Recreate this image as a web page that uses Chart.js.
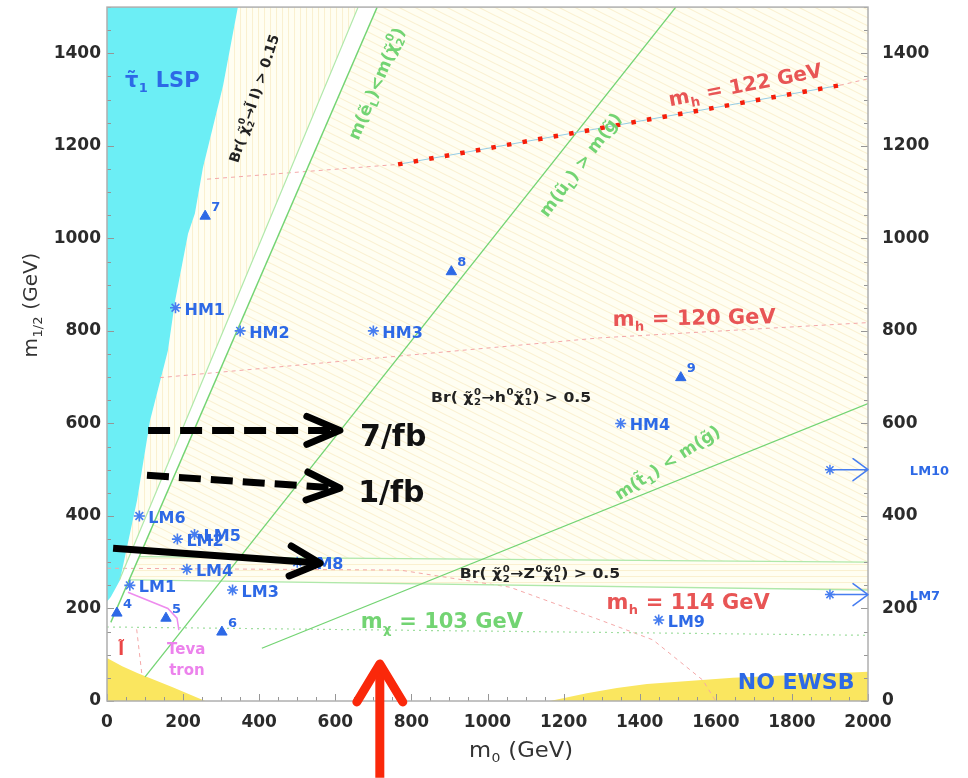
<!DOCTYPE html>
<html><head><meta charset="utf-8">
<script src="https://cdn.jsdelivr.net/npm/chart.js@4.4.0/dist/chart.umd.min.js"></script>
<style>html,body{margin:0;padding:0;background:#fff;}#wrap{width:968px;height:778px;}</style>
</head><body><div id="wrap"><canvas id="c" width="968" height="778"></canvas></div>
<script>
// ---------- data (m0, m1/2 in GeV) ----------
const xTickValues = [0,200,400,600,800,1000,1200,1400,1600,1800,2000];
const yTickValues = [0,200,400,600,800,1000,1200,1400];
const lspRegion = [[0,1500],[344,1500],[305,1330],[252,1152],[231,1054],[213,1010],[179,865],[160,757],[113,606],[79,434],[34,261],[10,225],[0,215]];
const sleptonBrRegion = [[344,1500],[305,1330],[252,1152],[231,1054],[213,1010],[179,865],[160,757],[113,606],[79,434],[34,261],[660,1500]];
const higgsBrRegion = [[710,1500],[2000,1500],[2000,300],[84,312]];
const zBrRegion = [[84,312],[2000,300],[2000,240],[60,262]];
const noEwsbLeft = [[0,0],[0,93],[40,75],[81,60],[171,30],[258,0]];
const noEwsbRight = [[1164,0],[1261,17],[1340,28],[1419,37],[1645,50],[2000,63],[2000,0]];
const lineSeLight = [[660,1500],[33,262]];
const lineSeChi = [[710,1500],[10,170]];
const lineSquarkGluino = [[1495,1500],[100,52]];
const lineStopGluino = [[407,114],[2000,643]];
const lineBrZUpper = [[84,312],[2000,300]];
const lineBrZLower = [[60,262],[2000,240]];
const lineMchi103 = [[0,160],[2000,142]];
const mh122Dashed = [[263,1128],[765,1160]];
const mh122DashedEnd = [[1926,1331],[2000,1345]];
const mh122Dotted = [[765,1160],[1926,1331]];
const mh120 = [[139,699],[1296,785],[2000,818]];
const mh114 = [[0,287],[770,283],[1059,246],[1296,175],[1435,132],[1566,45],[1598,2]];
const sleptonLimit = [[78,155],[92,55]];
const tevatron = [[55,235],[160,200],[184,179],[189,153]];
const triNames = ['4','5','6','7','8','9'];
const triX = [26,155,302,258,905,1508];
const triY = [190,179,149,1048,928,699];
const bmNames = ['LM1','LM2','LM3','LM4','LM5','LM6','LM8','LM9','HM1','HM2','HM3','HM4'];
const bmX = [60,185,330,210,230,85,500,1450,180,350,700,1350];
const bmY = [250,350,240,285,360,400,300,175,850,800,800,600];
const offNames = ['LM10','LM7'];
const offFromX = [1900,1900];
const offToX = [2000,2000];
const offY = [500,230];
const arrow7fb = [[108,585],[612,585]];
const arrow1fb = [[105,488],[612,460]];
const arrowSolid = [[16,330],[560,298]];
const arrowRed = [[717,-166],[717,80]];

// ---------- styling helpers ----------
const pts = a => a.map(p => ({x:p[0], y:p[1]}));
function hatch(kind){
  const c = document.createElement('canvas');
  let w=16,h=8;
  if(kind==='v'){w=6;h=6;} if(kind==='h'){w=6;h=6;}
  c.width=w;c.height=h;
  const g=c.getContext('2d');
  g.fillStyle='rgb(255,254,242)'; g.fillRect(0,0,w,h);
  g.strokeStyle='rgb(250,240,208)'; g.lineWidth=1.1;
  g.beginPath();
  if(kind==='d'){ for(const o of [-8,0,8]){ g.moveTo(0,o); g.lineTo(16,o+8);} }
  else if(kind==='v'){ g.moveTo(0.5,0); g.lineTo(0.5,h); }
  else { g.moveTo(0,0.5); g.lineTo(w,0.5); }
  g.stroke();
  return g.createPattern(c,'repeat');
}
const GREEN='rgb(115,212,115)', LGREEN='rgb(175,232,170)', PINK='rgb(244,168,168)', BLUE='rgb(45,105,230)';
function region(data,fillStyle,order){return {data:pts(data),fill:'shape',backgroundColor:fillStyle,borderWidth:0,borderColor:'rgba(0,0,0,0)',pointRadius:0,order};}
function line(data,color,width,dash,order){return {data:pts(data),fill:false,borderColor:color,borderWidth:width,borderDash:dash||[],pointRadius:0,order:order||10};}

function drawRich(ctx, parts, o){
  const fam=o.family||'DejaVu Sans', wt=o.weight||'bold';
  const fN=`${wt} ${o.size}px "${fam}"`, ss=Math.round(o.size*0.64), fS=`${wt} ${ss}px "${fam}"`;
  ctx.save();
  let w=0; const ws=[];
  for(const [t,m] of parts){
    let ww;
    if(m===0){ctx.font=fN; ww=ctx.measureText(t).width;}
    else if(m===3){ctx.font=fS; const [a,b]=t.split('|'); ww=Math.max(ctx.measureText(a).width,ctx.measureText(b).width)+1;}
    else {ctx.font=fS; ww=ctx.measureText(t).width+1;}
    ws.push(ww); w+=ww;
  }
  ctx.translate(o.x,o.y); ctx.rotate((o.angle||0)*Math.PI/180); ctx.scale(o.sx||1,1);
  let cx = o.align==='left'?0:-w/2;
  ctx.fillStyle=o.color; ctx.textBaseline='alphabetic'; ctx.textAlign='left';
  const base=o.size*0.36;
  parts.forEach(([t,m],i)=>{
    if(m===0){ctx.font=fN; ctx.fillText(t,cx,base);}
    else if(m===1){ctx.font=fS; ctx.fillText(t,cx+0.5,base+o.size*0.24);}
    else if(m===2){ctx.font=fS; ctx.fillText(t,cx+0.5,base-o.size*0.45);}
    else {ctx.font=fS; const [a,b]=t.split('|'); ctx.fillText(a,cx+0.5,base-o.size*0.45); ctx.fillText(b,cx+0.5,base+o.size*0.24);}
    cx+=ws[i];
  });
  ctx.restore();
}
function drawArrow(ctx,x1,y1,x2,y2,st){
  const a=Math.atan2(y2-y1,x2-x1), L=st.head, W=st.headW;
  ctx.save();
  ctx.strokeStyle=st.color; ctx.lineWidth=st.width;
  ctx.setLineDash(st.dash||[]); ctx.lineCap='butt';
  ctx.beginPath(); ctx.moveTo(x1,y1); ctx.lineTo(x2-Math.cos(a)*st.width*0.6,y2-Math.sin(a)*st.width*0.6); ctx.stroke();
  ctx.setLineDash([]); ctx.lineCap='round'; ctx.lineJoin='round';
  ctx.lineWidth=st.headWidth||st.width;
  const bx=x2-Math.cos(a)*L, by=y2-Math.sin(a)*L, px=-Math.sin(a)*W, py=Math.cos(a)*W;
  ctx.beginPath(); ctx.moveTo(bx+px,by+py); ctx.lineTo(x2,y2); ctx.lineTo(bx-px,by-py); ctx.stroke();
  ctx.restore();
}

// text annotations (anchor in data coordinates)
const texts = [
  {x:47,y:1344,align:'left',size:21,color:BLUE,parts:[['τ̃',0],['1',1],[' LSP',0]]},
  {x:386,y:1303,angle:-72,size:14,color:'#222',parts:[['Br( χ̃',0],['0|2',3],['→l̃ l) > 0.15',0]]},
  {x:707,y:1335,angle:-67,size:17,color:GREEN,parts:[['m(ẽ',0],['L',1],[')<m(χ̃',0],['0|2',3],[')',0]]},
  {x:1243,y:1160,angle:-53,size:17,color:GREEN,parts:[['m(ũ',0],['L',1],[') > m(g̃)',0]]},
  {x:1472,y:516,angle:-33,size:17,color:GREEN,parts:[['m(t̃',0],['1',1],[') < m(g̃)',0]]},
  {x:1677,y:1333,angle:-11,size:20,color:'rgb(232,85,85)',parts:[['m',0],['h',1],[' = 122 GeV',0]]},
  {x:1543,y:830,angle:-1,size:21,color:'rgb(232,85,85)',parts:[['m',0],['h',1],[' = 120 GeV',0]]},
  {x:1527,y:216,size:21,color:'rgb(232,85,85)',parts:[['m',0],['h',1],[' = 114 GeV',0]]},
  {x:880,y:175,size:21,color:GREEN,parts:[['m',0],['χ',1],[' = 103 GeV',0]]},
  {x:1062,y:658,size:14,sx:1.12,color:'#222',parts:[['Br( χ̃',0],['0|2',3],['→h',0],['0',2],['χ̃',0],['0|1',3],[') > 0.5',0]]},
  {x:1138,y:276,size:14,sx:1.12,color:'#222',parts:[['Br( χ̃',0],['0|2',3],['→Z',0],['0',2],['χ̃',0],['0|1',3],[') > 0.5',0]]},
  {x:1811,y:43,size:22,color:BLUE,parts:[['NO EWSB',0]]},
  {x:665,y:574,align:'left',size:30,color:'#111',parts:[['7/fb',0]]},
  {x:660,y:453,align:'left',size:30,color:'#111',parts:[['1/fb',0]]},
  {x:208,y:114,size:15,color:'rgb(236,130,236)',parts:[['Teva',0]]},
  {x:210,y:67,size:15,color:'rgb(236,130,236)',parts:[['tron',0]]},
  {x:37,y:112,size:17,color:'rgb(235,70,70)',parts:[['l̃',0]]}
];

const annot = {
  id:'annot',
  afterDatasetsDraw(chart){
    const {ctx, chartArea:ca, scales:{x,y}} = chart;
    const X=v=>x.getPixelForValue(v), Y=v=>y.getPixelForValue(v);
    ctx.save();
    ctx.strokeStyle='rgb(150,150,150)'; ctx.lineWidth=1;
    ctx.beginPath();
    for(let v=0; v<=2000; v+=50){ const px=Math.round(X(v))+0.5, len = v%200===0?7:4; ctx.moveTo(px,ca.bottom); ctx.lineTo(px,ca.bottom-len); }
    for(let v=0; v<=1500; v+=50){ const py=Math.round(Y(v))+0.5, len = v%200===0?7:4; ctx.moveTo(ca.left,py); ctx.lineTo(ca.left+len,py); ctx.moveTo(ca.right,py); ctx.lineTo(ca.right-len,py); }
    ctx.stroke();
    ctx.strokeStyle='rgb(175,175,175)'; ctx.lineWidth=1.5;
    ctx.strokeRect(ca.left,ca.top,ca.right-ca.left,ca.bottom-ca.top);
    ctx.restore();
    ctx.save();
    bmNames.forEach((n,i)=>drawRich(ctx,[[n,0]],{x:X(bmX[i])+9,y:Y(bmY[i])+1,align:'left',size:16,color:BLUE}));
    triNames.forEach((n,i)=>drawRich(ctx,[[n,0]],{x:X(triX[i])+6,y:Y(triY[i])-10,align:'left',size:13,color:BLUE}));
    offNames.forEach((n,i)=>{
      const y0=Y(offY[i]), xa=X(offFromX[i]), xb=X(offToX[i]);
      ctx.save(); ctx.strokeStyle='rgb(70,125,240)'; ctx.lineWidth=1.5;
      ctx.beginPath();
      for(const ang of [0,45,90,135]){const r=5,c=Math.cos(ang*Math.PI/180)*r,s=Math.sin(ang*Math.PI/180)*r; ctx.moveTo(xa-c,y0-s); ctx.lineTo(xa+c,y0+s);}
      ctx.stroke(); ctx.restore();
      drawArrow(ctx,xa,y0,xb,y0,{color:'rgb(70,125,240)',width:1.5,head:15,headW:11});
      drawRich(ctx,[[n,0]],{x:X(2110),y:y0+1,align:'left',size:13,color:BLUE});
    });
    texts.forEach(t=>drawRich(ctx,t.parts,Object.assign({},t,{x:X(t.x),y:Y(t.y)})));
    drawArrow(ctx,X(arrow7fb[0][0]),Y(arrow7fb[0][1]),X(arrow7fb[1][0]),Y(arrow7fb[1][1]),{color:'#000',width:7,dash:[22,10],head:33,headW:14});
    drawArrow(ctx,X(arrow1fb[0][0]),Y(arrow1fb[0][1]),X(arrow1fb[1][0]),Y(arrow1fb[1][1]),{color:'#000',width:7,dash:[22,10],head:33,headW:14});
    drawArrow(ctx,X(arrowSolid[0][0]),Y(arrowSolid[0][1]),X(arrowSolid[1][0]),Y(arrowSolid[1][1]),{color:'#000',width:7,head:30,headW:15});
    drawArrow(ctx,X(arrowRed[0][0]),Y(arrowRed[0][1]),X(arrowRed[1][0]),Y(arrowRed[1][1]),{color:'rgb(250,40,10)',width:9,head:38,headW:23});
    drawRich(ctx,[['m',0],['0',1],[' (GeV)',0]],{x:521,y:749,size:21,weight:'normal',sx:1.08,color:'#333'});
    drawRich(ctx,[['m',0],['1/2',1],[' (GeV)',0]],{x:30,y:305,angle:-90,size:20,weight:'normal',color:'#333'});
    ctx.restore();
  }
};

const tickFont = {family:'DejaVu Sans', weight:'bold', size:17};
const plain = v => String(v);
const datasets = [
  region(sleptonBrRegion, hatch('v'), 30),
  region(higgsBrRegion, hatch('d'), 30),
  region(zBrRegion, hatch('h'), 30),
  region(lspRegion, 'rgb(108,238,245)', 25),
  region(noEwsbLeft, 'rgb(250,230,95)', 25),
  region(noEwsbRight, 'rgb(250,230,95)', 25),
  line(lineSeLight, LGREEN, 1.2),
  line(lineSeChi, GREEN, 1.4),
  line(lineSquarkGluino, GREEN, 1.3),
  line(lineStopGluino, GREEN, 1.3),
  line(lineBrZUpper, LGREEN, 1.3),
  line(lineBrZLower, LGREEN, 1.3),
  line(lineMchi103, 'rgb(160,222,160)', 1.2, [2,4]),
  line(mh122Dashed, PINK, 1, [4,4]),
  line(mh122DashedEnd, PINK, 1, [4,4]),
  line(mh120, PINK, 1, [4,4]),
  line(mh114, PINK, 1, [4,4]),
  line(sleptonLimit, PINK, 1, [4,4]),
  line(tevatron, 'rgb(238,140,238)', 1.5),
  line(mh122Dotted, 'rgb(150,205,230)', 1, [], 8),
  line(mh122Dotted, 'rgb(245,30,10)', 4.5, [4.5,11.3], 7),
  {data:triX.map((v,i)=>({x:v,y:triY[i]})), showLine:false, pointStyle:'triangle', pointRadius:6, backgroundColor:BLUE, borderColor:BLUE, borderWidth:1, order:2},
  {data:bmX.map((v,i)=>({x:v,y:bmY[i]})), showLine:false, pointStyle:'star', pointRadius:5.5, backgroundColor:'rgba(0,0,0,0)', borderColor:'rgb(70,125,240)', borderWidth:1.6, order:2}
];

new Chart(document.getElementById('c'), {
  type:'line',
  data:{datasets},
  options:{
    responsive:false, animation:false,
    layout:{padding:{top:5,left:0,right:0,bottom:0}},
    elements:{line:{tension:0}},
    plugins:{legend:{display:false}, tooltip:{enabled:false}},
    scales:{
      x:{type:'linear', position:'bottom', min:0, max:2000,
         afterBuildTicks:s=>{s.ticks=xTickValues.map(v=>({value:v}));},
         afterFit:s=>{s.height=77; s.paddingLeft=0; s.paddingRight=0;},
         grid:{display:false, drawTicks:false}, border:{display:false},
         ticks:{font:tickFont, color:'#2b2b2b', padding:11, maxRotation:0, autoSkip:false, callback:plain}},
      y:{type:'linear', position:'left', min:0, max:1500,
         afterBuildTicks:s=>{s.ticks=yTickValues.map(v=>({value:v}));},
         afterFit:s=>{s.width=107; s.paddingTop=0; s.paddingBottom=0;},
         grid:{display:false, drawTicks:false}, border:{display:false},
         ticks:{font:tickFont, color:'#2b2b2b', padding:6, autoSkip:false, callback:plain}},
      y2:{type:'linear', position:'right', min:0, max:1500,
         afterBuildTicks:s=>{s.ticks=yTickValues.map(v=>({value:v}));},
         afterFit:s=>{s.width=100; s.paddingTop=0; s.paddingBottom=0;},
         grid:{display:false, drawTicks:false}, border:{display:false},
         ticks:{font:tickFont, color:'#2b2b2b', padding:14, autoSkip:false, callback:plain}}
    }
  },
  plugins:[annot]
});
</script></body></html>
